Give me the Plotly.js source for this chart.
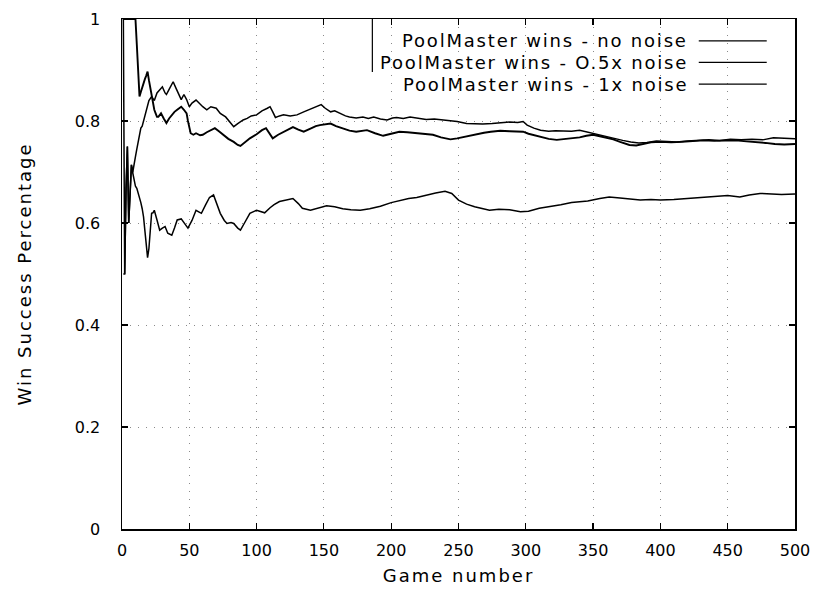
<!DOCTYPE html>
<html>
<head>
<meta charset="utf-8">
<script src="https://cdn.plot.ly/plotly-3.0.1.min.js"></script>
<style>
html,body{margin:0;padding:0;background:#fff;}
#chart{width:815px;height:594px;}
.annotation-text{letter-spacing:1.8px;}
.xtitle,.ytitle{letter-spacing:2px;}
</style>
</head>
<body>
<div id="chart"></div>
<script>
// Series labels
const seriesNames = ["PoolMaster wins - no noise", "PoolMaster wins - O.5x noise", "PoolMaster wins - 1x noise"];

// No noise
const gamesA = [1,2,3,4,5,6,7,8,9,10,11,12,13,14,15,16,17,18,19,20,22,24,26,28,30,32,33,35,38,40,42,44,46,48,50,52,55,58,60,63,66,70,73,77,80,83,86,90,93,96,100,104,108,110,112,114,117,120,125,130,135,140,144,148,151,155,158,162,166,169,174,179,183,187,192,197,201,204,209,214,220,226,232,239,244,249,256,262,268,275,281,288,294,298,301,306,311,317,322,328,334,340,346,353,360,366,372,378,384,390,397,405,412,420,428,436,444,452,460,468,476,484,492,500];
const winA = [1.0,0.5,0.667,0.75,0.6,0.667,0.714,0.70,0.72,0.73,0.745,0.76,0.775,0.786,0.79,0.80,0.815,0.825,0.833,0.84,0.848,0.84,0.855,0.86,0.867,0.855,0.852,0.862,0.877,0.865,0.852,0.842,0.852,0.842,0.828,0.835,0.841,0.833,0.828,0.822,0.828,0.825,0.815,0.808,0.798,0.789,0.795,0.802,0.805,0.81,0.812,0.82,0.825,0.828,0.818,0.807,0.81,0.812,0.81,0.812,0.818,0.823,0.828,0.832,0.825,0.818,0.82,0.815,0.81,0.808,0.806,0.808,0.805,0.808,0.804,0.802,0.806,0.807,0.805,0.808,0.805,0.803,0.804,0.802,0.80,0.799,0.795,0.794,0.794,0.795,0.797,0.798,0.797,0.799,0.792,0.786,0.782,0.78,0.781,0.781,0.78,0.782,0.778,0.774,0.769,0.766,0.762,0.759,0.757,0.758,0.761,0.76,0.759,0.761,0.762,0.763,0.762,0.764,0.763,0.764,0.763,0.767,0.766,0.765];

// 0.5x noise
const gamesB = [1,2,3,4,5,6,7,8,9,10,11,12,13,14,15,16,17,18,19,20,21,22,23,24,25,26,27,29,31,33,35,37,39,41,44,46,48,49,50,51,53,55,58,60,63,66,69,72,75,79,83,86,88,91,95,100,104,107,110,112,116,120,124,127,131,135,140,144,147,151,155,159,164,169,174,178,182,188,194,200,206,212,219,225,231,237,244,249,254,259,264,269,274,281,288,294,298,302,306,311,317,323,330,336,340,345,350,355,360,365,370,377,382,388,393,400,408,416,424,432,440,448,456,464,472,478,485,492,500];
const winB = [1,1,1,1,1,1,1,1,1,1,0.95,0.9,0.848,0.857,0.867,0.875,0.882,0.889,0.897,0.88,0.865,0.85,0.835,0.822,0.815,0.808,0.808,0.815,0.805,0.796,0.805,0.812,0.818,0.822,0.828,0.822,0.815,0.80,0.785,0.776,0.773,0.776,0.772,0.773,0.778,0.782,0.786,0.78,0.773,0.765,0.759,0.753,0.751,0.758,0.766,0.774,0.782,0.786,0.775,0.766,0.773,0.779,0.784,0.788,0.783,0.779,0.785,0.79,0.792,0.794,0.795,0.79,0.786,0.781,0.779,0.78,0.782,0.776,0.771,0.775,0.779,0.778,0.776,0.774,0.773,0.768,0.764,0.766,0.769,0.772,0.775,0.777,0.779,0.781,0.78,0.779,0.779,0.775,0.772,0.769,0.765,0.763,0.765,0.767,0.768,0.771,0.773,0.77,0.767,0.764,0.759,0.753,0.752,0.755,0.758,0.759,0.758,0.759,0.761,0.762,0.761,0.761,0.762,0.76,0.759,0.757,0.755,0.754,0.755];

// 1x noise
const gamesC = [1,2,3,4,5,6,7,8,9,10,11,12,13,14,15,16,17,18,19,20,21,22,23,24,26,28,30,32,34,37,39,41,44,47,49,52,55,57,59,62,65,68,70,73,76,78,81,83,86,88,91,95,100,103,106,110,113,117,121,127,131,134,140,146,152,158,164,170,177,184,192,200,207,213,219,226,233,240,245,250,256,262,268,273,280,288,296,302,310,318,326,334,340,346,355,362,370,378,385,393,400,410,420,430,440,450,459,466,474,482,490,500];
const winC = [0.5,0.5,0.667,0.75,0.6,0.667,0.714,0.698,0.685,0.672,0.668,0.66,0.652,0.64,0.628,0.612,0.585,0.555,0.532,0.55,0.59,0.619,0.62,0.625,0.606,0.586,0.59,0.593,0.58,0.576,0.59,0.606,0.608,0.597,0.59,0.605,0.625,0.622,0.619,0.635,0.65,0.655,0.64,0.619,0.605,0.599,0.601,0.599,0.59,0.586,0.60,0.619,0.625,0.622,0.62,0.63,0.636,0.642,0.645,0.648,0.638,0.629,0.625,0.63,0.634,0.632,0.628,0.626,0.625,0.628,0.633,0.64,0.645,0.648,0.65,0.655,0.659,0.662,0.658,0.645,0.637,0.632,0.628,0.625,0.627,0.626,0.622,0.623,0.629,0.632,0.636,0.64,0.641,0.643,0.648,0.651,0.649,0.647,0.645,0.646,0.645,0.646,0.648,0.65,0.652,0.654,0.651,0.655,0.658,0.657,0.656,0.657];

const xTicks = [0,50,100,150,200,250,300,350,400,450,500];
const yTicks = [0,0.2,0.4,0.6,0.8,1];
const yTickText = ["0","0.2","0.4","0.6","0.8","1"];

const FONT = "DejaVu Sans, sans-serif";
const widths = [1.5, 1.9, 1.5];
const traces = [[gamesA, winA], [gamesB, winB], [gamesC, winC]].map((d, i) => ({
  x: d[0], y: d[1], type: "scatter", mode: "lines", name: seriesNames[i],
  line: {color: "#000", width: widths[i]}, showlegend: false, hoverinfo: "skip"
}));

// manual gnuplot-style key: text right-aligned, sample line on the right
const rowY = [0.957, 0.915, 0.8725];
const annotations = seriesNames.map((n, i) => ({
  xref: "paper", yref: "paper", x: 0.842, y: rowY[i], xanchor: "right", yanchor: "middle",
  text: n, showarrow: false, borderpad: 0,
  font: {family: FONT, size: 18, color: "#000"}
}));
const shapes = seriesNames.map((n, i) => ({
  type: "line", xref: "paper", yref: "paper", x0: 0.857, x1: 0.958, y0: rowY[i], y1: rowY[i],
  line: {color: "#000", width: 1.2}
}));
// left edge of the key box (the rest of the box is not visible in the scan)
shapes.push({type: "line", xref: "paper", yref: "paper", x0: 0.372, x1: 0.372, y0: 0.896, y1: 1,
  line: {color: "#000", width: 1.2}});

const axisCommon = {
  showline: true, mirror: "ticks", linecolor: "#000", linewidth: 1.5,
  ticks: "inside", ticklen: 6, tickcolor: "#000", tickwidth: 1.2,
  showgrid: true, gridcolor: "#8a8a8a", griddash: "1px,7px", gridwidth: 1,
  zeroline: false, tickfont: {family: FONT, size: 16, color: "#000"}
};

const layout = {
  width: 815, height: 594,
  margin: {l: 122, r: 20, t: 19, b: 65},
  paper_bgcolor: "#fff", plot_bgcolor: "#fff",
  font: {family: FONT, size: 16, color: "#000"},
  xaxis: Object.assign({}, axisCommon, {
    range: [0, 500], tickmode: "array", tickvals: xTicks, ticklabelstandoff: 6,
    title: {text: "Game number", font: {family: FONT, size: 18, color: "#000"}, standoff: 10}
  }),
  yaxis: Object.assign({}, axisCommon, {
    range: [0, 1], tickmode: "array", tickvals: yTicks, ticktext: yTickText, ticklabelstandoff: 17,
    title: {text: "Win Success Percentage", font: {family: FONT, size: 18, color: "#000"}, standoff: 38}
  }),
  annotations: annotations, shapes: shapes
};

Plotly.newPlot("chart", traces, layout, {staticPlot: true, displayModeBar: false});
</script>
</body>
</html>
